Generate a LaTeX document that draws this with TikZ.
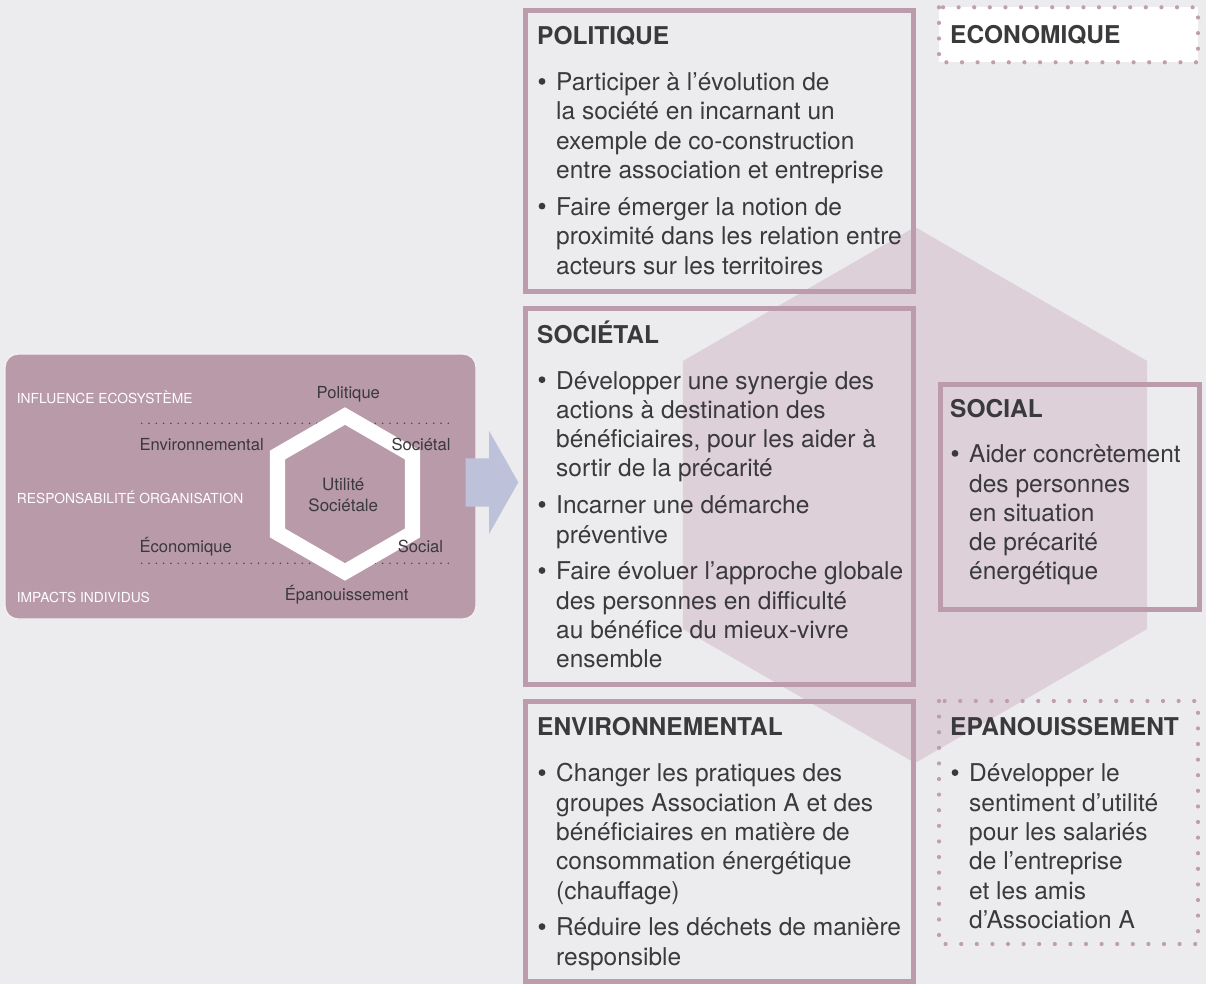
\documentclass[tikz,border=0pt]{standalone}
\usepackage{fontspec}
\setmainfont{TeX Gyre Heros}
\definecolor{bgc}{HTML}{ECECEE}
\definecolor{panel}{HTML}{B99AA8}
\definecolor{frame}{HTML}{BC9CAC}
\definecolor{dotc}{HTML}{BE9FAF}
\definecolor{hexc}{HTML}{DDD0D9}
\definecolor{ink}{HTML}{3A393C}
\definecolor{arrowc}{HTML}{BEC1DA}
\definecolor{dotdark}{HTML}{4A494C}
\newcommand\bodyfont{\fontsize{24.5}{29.3}\selectfont}
\newcommand\headfont{\bfseries\fontsize{24.5}{29.3}\selectfont}
\newcommand\capfont{\fontsize{13.8}{16}\selectfont}
\newcommand\lblfont{\fontsize{16.6}{19}\selectfont}
\newcommand\ctrfont{\fontsize{17}{21}\selectfont}
\tikzset{
  body/.style={anchor=base west, inner sep=0pt, font=\bodyfont, text=ink},
  head/.style={anchor=base west, inner sep=0pt, font=\headfont, text=ink},
  caplbl/.style={anchor=base west, inner sep=0pt, font=\capfont, text=white},
  lbl/.style={inner sep=0pt, font=\lblfont, text=ink},
  ctr/.style={anchor=base, inner sep=0pt, font=\ctrfont, text=ink},
  framebox/.style={draw=frame, line width=5pt},
  dotbox/.style={draw=dotc, line width=4.2pt, line cap=round, dash pattern=on 0pt off 15.6pt},
  dotline/.style={draw=dotdark, line width=1.7pt, line cap=round, dash pattern=on 0pt off 7.3pt},
  bulletdot/.style={fill=ink},
}
\begin{document}
\begin{tikzpicture}[x=1pt,y=-1pt]
\useasboundingbox (0,0) rectangle (1206,984);
\fill[bgc] (0,0) rectangle (1206,984);

% big background hexagon
\fill[hexc] (915,227) -- (1147.1,361) -- (1147.1,629) -- (915,763) -- (682.9,629) -- (682.9,361) -- cycle;

% boxes
\draw[framebox] (525.5,10.5) rectangle (913,291.5);
\draw[framebox] (525.5,308.5) rectangle (913,684.5);
\draw[framebox] (525.5,701) rectangle (913,981.5);
\draw[framebox] (940,384.5) rectangle (1199.5,609.5);
\fill[white] (939,7.3) rectangle (1198,62.3);
\draw[dotbox] (939,7.3) rectangle (1198,62.3);
\draw[dotbox] (939,701) rectangle (1198,944);

% POLITIQUE
\node[head] (polt) at (537,44.3) {POLITIQUE};
\node[body] (pol1) at (556,90.7) {Participer à l’évolution de};
\node[body] (pol2) at (556,120) {la société en incarnant un};
\node[body] (pol3) at (556,149.3) {exemple de co-construction};
\node[body] (pol4) at (556,178.6) {entre association et entreprise};
\node[body] (pol5) at (556,215.4) {Faire émerger la notion de};
\node[body] (pol6) at (556,244.7) {proximité dans les relation entre};
\node[body] (pol7) at (556,274) {acteurs sur les territoires};

% SOCIETAL
\node[head] (soct) at (537,343) {SOCIÉTAL};
\node[body] (soc1) at (556,389) {Développer une synergie des};
\node[body] (soc2) at (556,418.3) {actions à destination des};
\node[body] (soc3) at (556,447.6) {bénéficiaires, pour les aider à};
\node[body] (soc4) at (556,476.9) {sortir de la précarité};
\node[body] (soc5) at (556,513.7) {Incarner une démarche};
\node[body] (soc6) at (556,543) {préventive};
\node[body] (soc7) at (556,579.8) {Faire évoluer l’approche globale};
\node[body] (soc8) at (556,609.1) {des personnes en difficulté};
\node[body] (soc9) at (556,638.4) {au bénéfice du mieux-vivre};
\node[body] (soc10) at (556,667.7) {ensemble};

% ENVIRONNEMENTAL
\node[head] (envt) at (537,735.5) {ENVIRONNEMENTAL};
\node[body] (env1) at (556,781.9) {Changer les pratiques des};
\node[body] (env2) at (556,811.2) {groupes Association A et des};
\node[body] (env3) at (556,840.5) {bénéficiaires en matière de};
\node[body] (env4) at (556,869.8) {consommation énergétique};
\node[body] (env5) at (556,899.1) {(chauffage)};
\node[body] (env6) at (556,935.9) {Réduire les déchets de manière};
\node[body] (env7) at (556,965.2) {responsible};

% ECONOMIQUE
\node[head] (ecot) at (950,43.3) {ECONOMIQUE};

% SOCIAL
\node[head] (sclt) at (950,417.3) {SOCIAL};
\node[body] (scl1) at (969,462.7) {Aider concrètement};
\node[body] (scl2) at (969,492) {des personnes};
\node[body] (scl3) at (969,521.3) {en situation};
\node[body] (scl4) at (969,550.6) {de précarité};
\node[body] (scl5) at (969,579.9) {énergétique};

% EPANOUISSEMENT
\node[head] (epat) at (950,735.5) {EPANOUISSEMENT};
\node[body] (epa1) at (969,781.9) {Développer le};
\node[body] (epa2) at (969,811.2) {sentiment d’utilité};
\node[body] (epa3) at (969,840.5) {pour les salariés};
\node[body] (epa4) at (969,869.8) {de l’entreprise};
\node[body] (epa5) at (969,899.1) {et les amis};
\node[body] (epa6) at (969,928.4) {d’Association A};

% bullets
\foreach \n in {pol1,pol5,soc1,soc5,soc7,env1,env6,scl1,epa1}
  \fill[bulletdot] ([xshift=-14pt,yshift=9.3pt]\n.base west) circle[radius=3.4pt];

% left panel
\draw[fill=panel, draw=white!85!panel, line width=1.3pt, rounded corners=13pt] (5,354) rectangle (476,619);
\draw[dotline] (141.7,423.3) -- (450.7,423.3);
\draw[dotline] (141.7,563.3) -- (450.7,563.3);
\fill[white, even odd rule]
  (345,407.3) -- (420.1,450.65) -- (420.1,537.35) -- (345,580.7) -- (269.9,537.35) -- (269.9,450.65) -- cycle
  (345,424.8) -- (404.9,459.4) -- (404.9,528.6) -- (345,563.2) -- (285.1,528.6) -- (285.1,459.4) -- cycle;
\node[caplbl] (infl) at (16.7,403.3) {INFLUENCE ECOSYSTÈME};
\node[caplbl] (resp) at (16.7,503.3) {RESPONSABILITÉ ORGANISATION};
\node[caplbl] (impa) at (16.7,602.3) {IMPACTS INDIVIDUS};
\node[lbl, anchor=base] (lpol) at (348.3,398.3) {Politique};
\node[lbl, anchor=base west] (lenv) at (139.3,450) {Environnemental};
\node[lbl, anchor=base east] (lsoc) at (450.7,450) {Sociétal};
\node[lbl, anchor=base west] (leco) at (139.3,552.7) {Économique};
\node[lbl, anchor=base east] (lscl) at (443.3,552.7) {Social};
\node[lbl, anchor=base] (lepa) at (346.7,600.7) {Épanouissement};
\node[ctr] (uti1) at (343.3,490) {Utilité};
\node[ctr] (uti2) at (343.3,511.7) {Sociétale};

% arrow
\fill[arrowc] (465.7,458.3) -- (489,458.3) -- (489,430.7) -- (518.3,482.3) -- (489,534) -- (489,506.7) -- (465.7,506.7) -- cycle;
\end{tikzpicture}
\end{document}
